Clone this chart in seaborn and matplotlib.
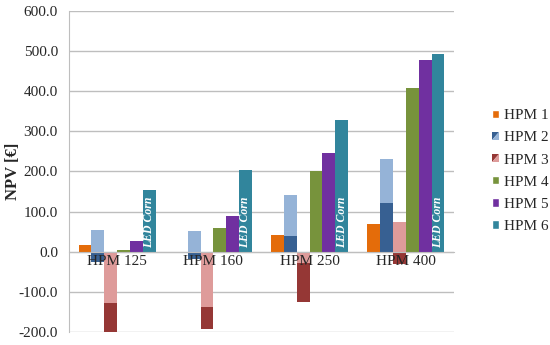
import pandas as pd
import numpy as np
import matplotlib
matplotlib.use('Agg')
import matplotlib.pyplot as plt
import seaborn as sns
from matplotlib.patches import Patch, Polygon
from matplotlib.ticker import FormatStrFormatter, FixedLocator

categories = ['HPM 125', 'HPM 160', 'HPM 250', 'HPM 400']
series = ['HPM 1', 'HPM 2', 'HPM 3', 'HPM 4', 'HPM 5', 'HPM 6']

hpm1 = [18, 0, 42, 69]
hpm2_dark = [-25, -17, 39, 121]
hpm2_light = [55, 52, 141, 231]
hpm3_light = [-127, -137, -27, 75]
hpm3_dark = [-200, -192, -126, -31]
hpm4 = [4, 60, 200, 407]
hpm5 = [27, 90, 245, 479]
hpm6 = [155, 204, 328, 493]

# colours
orange = '#E46C0A'
blue_dark = '#376092'
blue_light = '#95B3D7'
red_light = '#DE9B9A'
red_dark = '#953735'
green = '#77933C'
purple = '#7030A0'
teal = '#31859C'

back = {'HPM 1': hpm1, 'HPM 2': hpm2_light, 'HPM 3': hpm3_dark,
        'HPM 4': hpm4, 'HPM 5': hpm5, 'HPM 6': hpm6}
front = {'HPM 2': hpm2_dark, 'HPM 3': hpm3_light}

def to_long(d):
    rows = []
    for s, vals in d.items():
        for c, v in zip(categories, vals):
            rows.append({'cat': c, 'series': s, 'npv': v})
    return pd.DataFrame(rows)

df_back = to_long(back)
df_front = to_long(front)

pal_back = {'HPM 1': orange, 'HPM 2': blue_light, 'HPM 3': red_dark,
            'HPM 4': green, 'HPM 5': purple, 'HPM 6': teal}
pal_front = dict(pal_back)
pal_front['HPM 2'] = blue_dark
pal_front['HPM 3'] = red_light

sns.set_style('white')
plt.rcParams['font.family'] = ['Liberation Serif', 'DejaVu Serif']

fig = plt.figure(figsize=(5.5, 3.45), dpi=100)
ax = fig.add_axes([0.1255, 0.0377, 0.7, 0.9304])

sns.barplot(data=df_back, x='cat', y='npv', hue='series', order=categories,
            hue_order=series, palette=pal_back, width=0.8, linewidth=0,
            saturation=1, legend=False, ax=ax)
led_bars = ax.containers[5]
sns.barplot(data=df_front, x='cat', y='npv', hue='series', order=categories,
            hue_order=series, palette=pal_front, width=0.8, linewidth=0,
            saturation=1, legend=False, ax=ax)

for bar in led_bars:
    ax.annotate('LED Corn', (bar.get_x() + bar.get_width() / 2, 0),
                xytext=(0, 3), textcoords='offset points', rotation=90,
                ha='center', va='bottom', color='white', fontsize=8.5,
                fontweight='bold', fontstyle='italic')

ax.set_ylim(-200, 600)
ax.set_xlim(-0.5, 3.5)
ax.set_yticks(np.arange(-200, 601, 100))
ax.yaxis.set_major_formatter(FormatStrFormatter('%.1f'))
ax.grid(axis='y', color='#BEBEBE', linewidth=1)
ax.set_axisbelow(True)
ax.xaxis.set_zorder(3)

for s in ['top', 'right']:
    ax.spines[s].set_visible(False)
ax.spines['left'].set_color('#BEBEBE')
ax.spines['bottom'].set_color('#BEBEBE')
ax.spines['bottom'].set_position(('data', 0))

ax.xaxis.set_minor_locator(FixedLocator([0.5, 1.5, 2.5, 3.5]))
ax.tick_params(axis='x', which='major', length=0, pad=2, labelsize=11)
ax.tick_params(axis='x', which='minor', length=4, color='#BEBEBE', direction='out')
ax.tick_params(axis='y', length=0, pad=8, labelsize=11)

ax.set_xlabel('')
ax.set_ylabel('NPV [€]', fontsize=12, fontweight='bold')
ax.yaxis.set_label_coords(-0.125, 0.5)


class SplitHandler:
    def __init__(self, upper, lower):
        self.upper = upper
        self.lower = lower

    def legend_artist(self, legend, orig_handle, fontsize, handlebox):
        x0, y0 = -handlebox.xdescent, -handlebox.ydescent
        w, h = handlebox.width, handlebox.height
        p1 = Polygon([[x0, y0], [x0, y0 + h], [x0 + w, y0 + h]],
                     closed=True, facecolor=self.upper, edgecolor='none',
                     transform=handlebox.get_transform())
        p2 = Polygon([[x0, y0], [x0 + w, y0], [x0 + w, y0 + h]],
                     closed=True, facecolor=self.lower, edgecolor='none',
                     transform=handlebox.get_transform())
        handlebox.add_artist(p1)
        handlebox.add_artist(p2)
        return p1


handles = [Patch(facecolor=orange), Patch(facecolor=blue_dark),
           Patch(facecolor=red_dark), Patch(facecolor=green),
           Patch(facecolor=purple), Patch(facecolor=teal)]
hmap = {handles[1]: SplitHandler(blue_dark, blue_light),
        handles[2]: SplitHandler(red_dark, red_light)}
fig.legend(handles, series, handler_map=hmap, loc='center left',
           bbox_to_anchor=(0.895, 0.504), frameon=False, fontsize=11,
           handlelength=0.45, handleheight=0.45, handletextpad=0.3,
           labelspacing=0.6, borderpad=0, borderaxespad=0)

fig.savefig('out.png', dpi=100)
